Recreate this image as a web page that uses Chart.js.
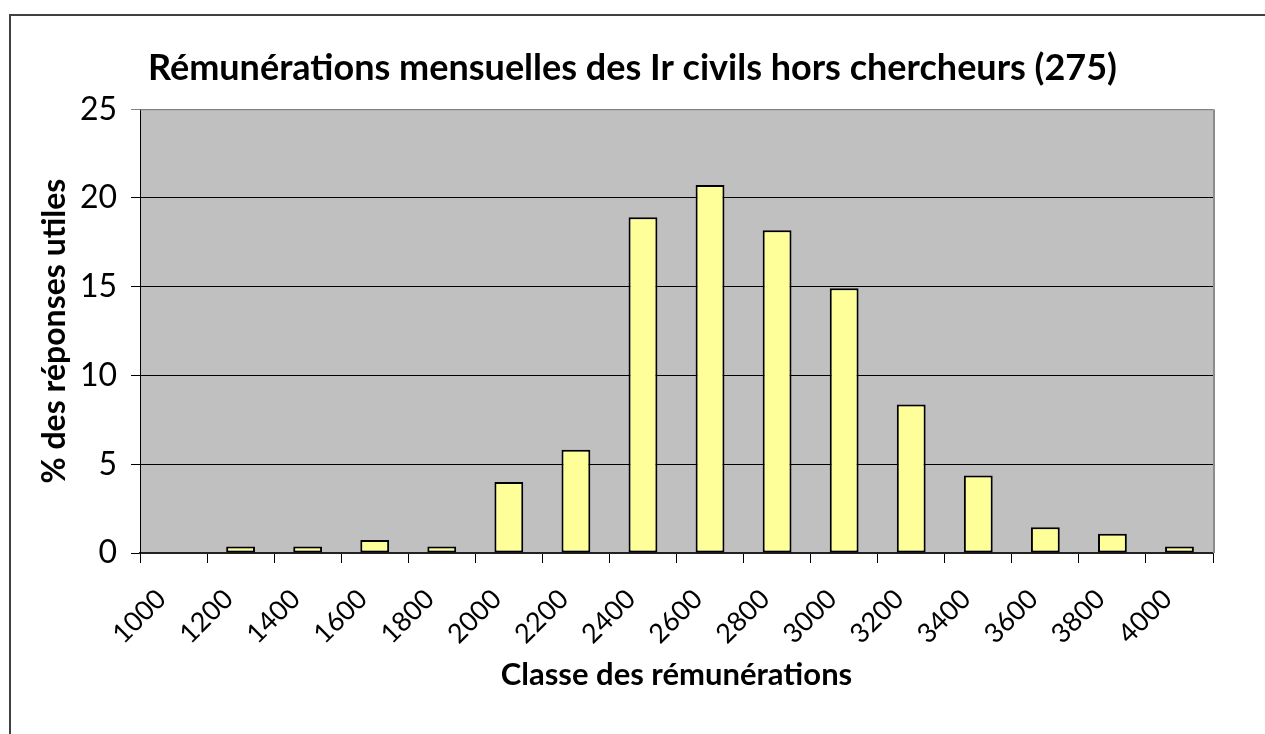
<!DOCTYPE html>
<html>
<head>
<meta charset="utf-8">
<script src="https://cdn.jsdelivr.net/npm/chart.js@4/dist/chart.umd.min.js"></script>
<style>
  html, body { margin: 0; padding: 0; background: #fff; overflow: hidden; }
  #frame { position: absolute; left: 9px; top: 14px; width: 1300px; height: 800px; border: 2px solid #404040; }
  #wrap { position: absolute; left: 0; top: 0; width: 1265px; height: 734px; }
</style>
</head>
<body>
<div id="frame"></div>
<div id="wrap"><canvas id="chart" width="1265" height="734"></canvas></div>
<script>
// salary classes (euros / month)
const classes = ['1000', '1200', '1400', '1600', '1800', '2000', '2200', '2400',
  '2600', '2800', '3000', '3200', '3400', '3600', '3800', '4000']
// % of the 275 useful answers
const pctAnswers = [0, 0.36, 0.36, 0.73, 0.36, 4.0, 5.82, 18.91,
  20.73, 18.18, 14.91, 8.36, 4.36, 1.45, 1.09, 0.36]
const yTicks = [0, 5, 10, 15, 20, 25]

const FONT = 'Lato'

// grey plot background + thin grey frame like the spreadsheet chart
const plotArea = {
  id: 'plotArea',
  beforeDraw(chart) {
    const { ctx, chartArea: a } = chart
    ctx.save()
    ctx.fillStyle = '#c0c0c0'
    ctx.fillRect(a.left, a.top, a.right - a.left, a.bottom - a.top)
    ctx.restore()
  },
  beforeDatasetsDraw(chart) {
    const { ctx, chartArea: a } = chart
    ctx.save()
    ctx.strokeStyle = '#808080'
    ctx.lineWidth = 1
    ctx.beginPath()
    ctx.moveTo(a.left, a.top + 0.5)
    ctx.lineTo(a.right, a.top + 0.5)
    ctx.stroke()
    ctx.lineWidth = 2
    ctx.strokeStyle = '#8c8c8c'
    ctx.beginPath()
    ctx.moveTo(a.right + 1, a.top)
    ctx.lineTo(a.right + 1, a.bottom)
    ctx.stroke()
    ctx.restore()
  }
}

new Chart(document.getElementById('chart').getContext('2d'), {
  type: 'bar',
  data: {
    labels: classes,
    datasets: [
      {
        label: '% des réponses utiles',
        data: pctAnswers,
        backgroundColor: '#ffff99',
        borderColor: '#000',
        borderWidth: 2,
        borderSkipped: false,
        barPercentage: 0.43,
        categoryPercentage: 1,
      },
    ],
  },
  options: {
    responsive: false,
    animation: false,
    layout: { padding: 0 },
    plugins: {
      legend: { display: false },
      tooltip: { enabled: false },
      title: {
        display: true,
        text: 'Rémunérations mensuelles des Ir civils hors chercheurs (275)',
        color: '#000',
        font: { family: FONT, size: 36, weight: 'bold' },
        padding: { top: 47, bottom: 19 },
      },
    },
    scales: {
      x: {
        offset: true,
        grid: { offset: true, drawOnChartArea: false, tickLength: 10, color: '#000' },
        border: { color: '#222', width: 2 },
        ticks: {
          autoSkip: false, minRotation: 45, maxRotation: 45,
          color: '#000', padding: 20, labelOffset: -12,
          font: { family: FONT, size: 27 },
        },
        title: {
          display: true,
          text: 'Classe des rémunérations',
          color: '#000',
          font: { family: FONT, size: 31, weight: 'bold' },
          padding: { top: 0, bottom: 40 },
        },
        afterFit: s => { s.height = 181 },
      },
      y: {
        min: 0,
        max: 25,
        afterBuildTicks: s => { s.ticks = yTicks.map(v => ({ value: v })) },
        grid: {
          color: c => (c.tick && c.tick.value === 25 ? '#808080' : '#000'),
          tickLength: 9,
        },
        border: { color: '#000', width: 1 },
        ticks: { color: '#000', padding: 14, font: { family: FONT, size: 32 } },
        title: {
          display: true,
          text: '% des réponses utiles',
          color: '#000',
          font: { family: FONT, size: 32, weight: 'bold' },
          padding: { top: 35, bottom: 0 },
        },
        afterFit: s => { s.width = 140 },
      },
      // empty right-hand strip so the title stays centred on the whole frame
      gap: {
        type: 'linear',
        position: 'right',
        display: true,
        grid: { display: false },
        border: { display: false },
        ticks: { display: false },
        afterFit: s => { s.width = 52 },
      },
    },
  },
  plugins: [plotArea],
})
</script>
</body>
</html>
